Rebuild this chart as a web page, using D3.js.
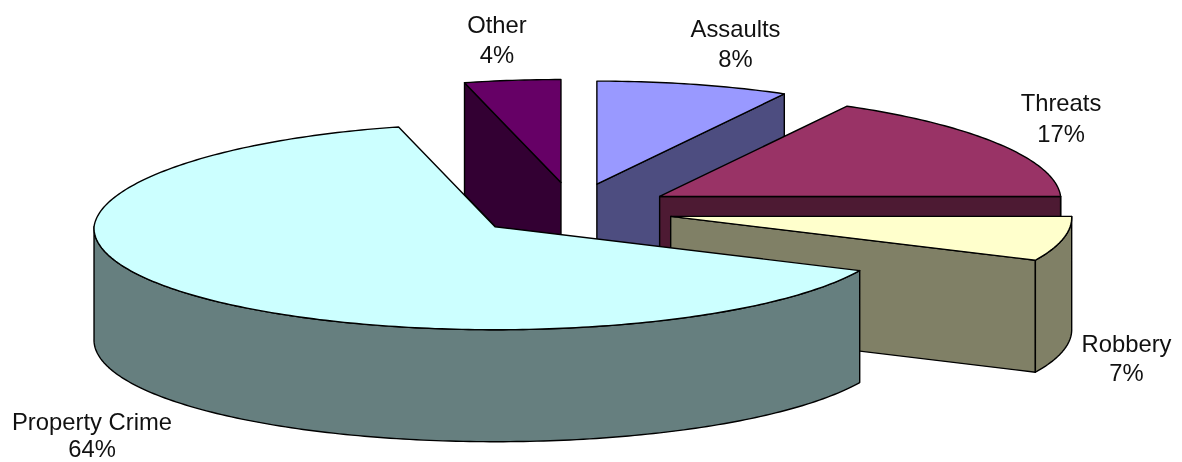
<!DOCTYPE html>
<html><head><meta charset="utf-8">
<script src="https://cdn.jsdelivr.net/npm/d3@7"></script>
<style>html,body{margin:0;padding:0;background:#fff}svg{display:block;filter:blur(0.45px)}text{font-family:"Liberation Sans",Arial,sans-serif;fill:#111}</style>
</head><body><svg id="c" width="1182" height="462"></svg>
<script>
const categories=["Assaults","Threats","Robbery","Property Crime","Other"];
const values=[8,17,7,64,4];
const topColors=["#9999FF","#993366","#FFFFCC","#CCFFFF","#660066"];
const wallColors=["#4D4D80","#4D1A33","#808066","#667F7F","#330033"];
const drawOrder=["Other","Assaults","Threats","Robbery","Property Crime"];
const nudges=[[0,-1],[4,0],[4,2],[-4,2],[0,-2]];
const labelAnchors=[[735.5,37],[1061,111],[1126.5,352],[92,430],[497,33]];
const labelGaps=[30,31,29,26.5,30];

const W=1182,H=462,rx=401,ry=103,depth=112,cx=573,cy=209,explode=96/401,backShrink=0.035,frontGrow=0.012;
const svg=d3.select("#c");
const sx=d3.scaleLinear().domain([-1,1]).range([-rx,rx]);
const sy=d3.scaleLinear().domain([-1,1]).range([-ry,ry]);
const arcs=d3.pie().sort(null).value(d=>d).startAngle(0).endAngle(2*Math.PI)(values);
const line=d3.line();
const rimPoint=(apex,t)=>{const c=Math.cos(t),k=c>0?1/(1+backShrink*c):1-frontGrow*c;return [apex[0]+sx(Math.sin(t))*k,apex[1]-sy(c)];};
const rimPts=(apex,a,b,dy=0)=>{const n=Math.max(2,Math.ceil((b-a)*60));return d3.range(n+1).map(i=>{const p=rimPoint(apex,a+(b-a)*i/n);return [p[0],p[1]+dy];});};
const drop=(p)=>[p[0],p[1]+depth];
const g=svg.append("g").attr("stroke","#000").attr("stroke-width",1.4).attr("stroke-linejoin","round");
const item=drawOrder.map(n=>categories.indexOf(n));
item.forEach(i=>{
  const d=arcs[i],a=d.startAngle,b=d.endAngle,mid=(a+b)/2;
  const apex=[cx+sx(Math.sin(mid)*explode)+nudges[i][0],cy-sy(Math.cos(mid)*explode)+nudges[i][1]];
  const wall=wallColors[i];
  const cut=(t)=>{const p=rimPoint(apex,t);g.append("path").attr("fill",wall).attr("d",line([apex,p,drop(p),drop(apex)])+"Z");};
  if(Math.sin(a)<-1e-6)cut(a);
  if(Math.sin(b)>1e-6)cut(b);
  const ra=Math.max(a,Math.PI/2),rb=Math.min(b,3*Math.PI/2);
  if(rb>ra){
    const top=rimPts(apex,ra,rb),bot=rimPts(apex,ra,rb,depth).reverse();
    g.append("path").attr("fill",wall).attr("d",line(top.concat(bot))+"Z");
  }
  g.append("path").attr("fill",topColors[i]).attr("d",line([apex].concat(rimPts(apex,a,b)))+"Z");
});
const lab=svg.append("g").attr("font-size",23.8).attr("text-anchor","middle");
categories.forEach((c,i)=>{
  const t=lab.append("text").attr("x",labelAnchors[i][0]).attr("y",labelAnchors[i][1]);
  t.append("tspan").attr("x",labelAnchors[i][0]).text(c);
  t.append("tspan").attr("x",labelAnchors[i][0]).attr("dy",labelGaps[i]).text(values[i]+"%");
});
</script></body></html>
